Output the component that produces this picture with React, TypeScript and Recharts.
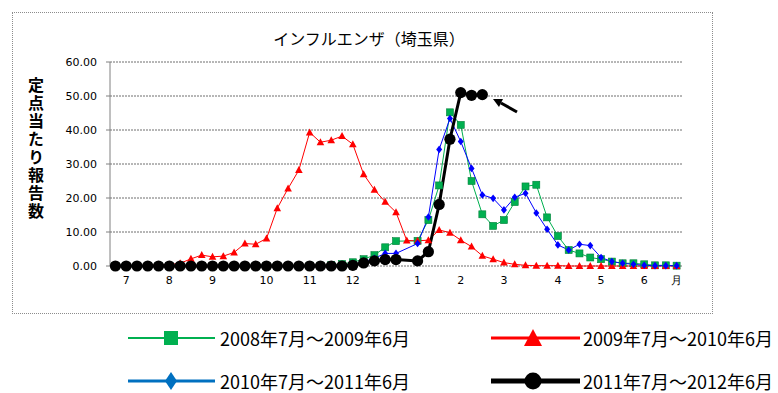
import React from 'react';
import { LineChart, Line, XAxis, YAxis, CartesianGrid, Legend } from 'recharts';

// month labels on the week axis (53 weeks, July -> June)
const monthLabels = ['7', '8', '9', '10', '11', '12', '1', '2', '3', '4', '5', '6', '月'];
const monthLabelWeeks = [1, 5, 9, 14, 18, 22, 28, 32, 36, 41, 45, 49, 52];
const yTicks = [0, 10, 20, 30, 40, 50, 60];

const seriesNames = [
  '2008年7月～2009年6月',
  '2009年7月～2010年6月',
  '2010年7月～2011年6月',
  '2011年7月～2012年6月'
];

const season0809 = [
  0, 0, 0, 0, 0, 0, 0, 0, 0, 0,
  0, 0, 0, 0, 0, 0, 0, 0, 0.1, 0.1,
  0.3, 0.6, 1.1, 2.0, 3.2, 5.5, 7.3, null, 7.4, 13.5,
  23.7, 45.2, 41.5, 25.0, 15.2, 11.8, 13.5, 18.8, 23.4, 23.9,
  14.3, 8.8, 4.7, 3.7, 2.5, 2.0, 1.3, 0.8, 0.8, 0.5,
  0.2, 0.2, 0.1
];

const season0910 = [
  0.1, 0.1, 0.1, 0.2, 0.3, 0.4, 0.8, 2.1, 3.2, 2.7,
  2.9, 4.0, 6.6, 6.4, 8.1, 17.0, 22.8, 28.2, 39.3, 36.4,
  37.0, 38.2, 35.8, 27.0, 22.4, 18.9, 15.8, 7.5, 7.4, 7.6,
  10.6, 9.8, 7.6, 5.7, 3.0, 2.0, 1.0, 0.5, 0.2, 0.1,
  0.1, 0.1, 0, 0, 0, 0, 0, 0, 0, 0,
  0, 0, 0
];

const season1011 = [
  0, 0, 0, 0, 0, 0, 0, 0, 0, 0,
  0, 0, 0, 0, 0, 0, 0, 0, 0, 0,
  0.1, 0.2, 0.5, 1.2, 2.3, 3.7, 3.7, null, 6.6, 14.4,
  34.3, 43.4, 36.6, 28.7, 20.9, 19.9, 16.5, 20.2, 21.4, 15.6,
  10.8, 6.2, 4.7, 6.4, 6.0, 2.5, 1.3, 0.8, 0.5, 0.2,
  0.1, 0.1, 0.1
];

const season1112 = [
  0, 0, 0, 0, 0, 0, 0, 0, 0, 0,
  0, 0, 0, 0, 0, 0, 0, 0, 0, 0,
  0, 0, 0.2, 0.9, 1.5, 1.9, 1.9, null, 1.5, 4.2,
  18.1, 37.3, 51.0, 50.2, 50.4, null, null, null, null, null,
  null, null, null, null, null, null, null, null, null, null,
  null, null, null
];

const data = season0809.map((v, i) => ({
  i,
  s0809: v,
  s0910: season0910[i],
  s1011: season1011[i],
  s1112: season1112[i]
}));

const boundaryTicks = Array.from({ length: 54 }, (_, k) => k - 0.5);

const GREEN = '#00B050';
const RED = '#FF0000';
const BLUE = '#0000FF';
const jp = '"Noto Sans CJK JP", "Noto Sans", sans-serif';

const ok = (p: any) => p.cx != null && p.cy != null && !isNaN(p.cy);

const squareDot = (p: any) =>
  ok(p) ? (
    <rect key={p.index} x={p.cx - 3.5} y={p.cy - 3.5} width={7} height={7} fill={GREEN} stroke="#00803A" strokeWidth={0.6} />
  ) : (
    <g key={p.index} />
  );

const triangleDot = (p: any) =>
  ok(p) ? (
    <polygon key={p.index} points={`${p.cx},${p.cy - 4} ${p.cx - 3.8},${p.cy + 3} ${p.cx + 3.8},${p.cy + 3}`} fill={RED} />
  ) : (
    <g key={p.index} />
  );

const diamondDot = (p: any) =>
  ok(p) ? (
    <polygon key={p.index} points={`${p.cx},${p.cy - 3.8} ${p.cx + 3},${p.cy} ${p.cx},${p.cy + 3.8} ${p.cx - 3},${p.cy}`} fill={BLUE} />
  ) : (
    <g key={p.index} />
  );

const circleDot = (p: any) =>
  ok(p) ? <circle key={p.index} cx={p.cx} cy={p.cy} r={5.6} fill="#000" /> : <g key={p.index} />;

const renderLegend = () => (
  <svg width={778} height={83} style={{ display: 'block' }}>
    <g fontFamily={jp} fontSize={18} fill="#000">
      <line x1={128} y1={28} x2={215} y2={28} stroke={GREEN} strokeWidth={2} />
      <rect x={164} y={21} width={14} height={14} fill={GREEN} />
      <text x={220} y={28} dominantBaseline="central">{seriesNames[0]}</text>

      <line x1={491} y1={28} x2={580} y2={28} stroke={RED} strokeWidth={3} />
      <polygon points="533,19 524,36 542,36" fill={RED} />
      <text x={583} y={28} dominantBaseline="central">{seriesNames[1]}</text>

      <line x1={128} y1={71} x2={215} y2={71} stroke="#0070C0" strokeWidth={3} />
      <polygon points="171,62 177,71 171,80 165,71" fill="#0070C0" />
      <text x={220} y={71} dominantBaseline="central">{seriesNames[2]}</text>

      <line x1={491} y1={71} x2={580} y2={71} stroke="#000" strokeWidth={5} />
      <circle cx={533} cy={71} r={8.5} fill="#000" />
      <text x={583} y={71} dominantBaseline="central">{seriesNames[3]}</text>
    </g>
  </svg>
);

export default function App() {
  return (
    <div style={{ position: 'absolute', left: 0, top: 0, width: 778, height: 393, background: '#fff', fontFamily: '"DejaVu Sans", sans-serif' }}>
      <div
        style={{
          position: 'absolute',
          left: 12,
          top: 12,
          width: 699,
          height: 300,
          border: '1px dotted #8c8c8c'
        }}
      />
      <div
        style={{
          position: 'absolute',
          left: 0,
          width: 738,
          top: 28,
          textAlign: 'center',
          fontFamily: jp,
          fontSize: 16,
          lineHeight: '20px'
        }}
      >
        インフルエンザ（埼玉県）
      </div>
      <div
        style={{
          position: 'absolute',
          left: 28,
          top: 77,
          writingMode: 'vertical-rl',
          textOrientation: 'upright',
          fontFamily: jp,
          fontWeight: 'bold',
          fontSize: 16,
          letterSpacing: 2,
          lineHeight: '16px'
        }}
      >
        定点当たり報告数
      </div>
      <LineChart width={778} height={393} data={data} margin={{ top: 62, right: 96, left: 0, bottom: 97 }}>
        <CartesianGrid xAxisId="lab" vertical={false} stroke="#6e6e6e" strokeDasharray="2 1" />
        <XAxis
          xAxisId="tk"
          type="number"
          dataKey="i"
          domain={[-0.5, 52.5]}
          ticks={boundaryTicks}
          interval={0}
          tickFormatter={() => ''}
          height={0}
          tickSize={4}
          axisLine={{ stroke: '#808080' }}
          tickLine={{ stroke: '#808080' }}
        />
        <XAxis
          xAxisId="lab"
          type="number"
          dataKey="i"
          domain={[-0.5, 52.5]}
          ticks={monthLabelWeeks}
          interval={0}
          tickFormatter={(v: number) => monthLabels[monthLabelWeeks.indexOf(v)] ?? ''}
          height={30}
          axisLine={false}
          tickLine={false}
          tickSize={6}
          tickMargin={4}
          tick={{ fill: '#000', fontSize: 11 }}
        />
        <YAxis
          type="number"
          domain={[0, 60]}
          ticks={yTicks}
          interval={0}
          tickFormatter={(v: number) => v.toFixed(2)}
          width={110}
          tickSize={4}
          tickMargin={9}
          axisLine={{ stroke: '#808080' }}
          tickLine={{ stroke: '#808080' }}
          tick={{ fill: '#000', fontSize: 11 }}
        />
        <Legend
          layout="vertical"
          verticalAlign="middle"
          align="center"
          content={renderLegend}
          wrapperStyle={{ position: 'absolute', left: 0, top: 310, width: 778, height: 83 }}
        />
        <Line xAxisId="lab" dataKey="s0809" name={seriesNames[0]} stroke={GREEN} strokeWidth={1} dot={squareDot} connectNulls isAnimationActive={false} />
        <Line xAxisId="lab" dataKey="s0910" name={seriesNames[1]} stroke={RED} strokeWidth={1} dot={triangleDot} isAnimationActive={false} />
        <Line xAxisId="lab" dataKey="s1011" name={seriesNames[2]} stroke={BLUE} strokeWidth={1} dot={diamondDot} connectNulls isAnimationActive={false} />
        <Line xAxisId="lab" dataKey="s1112" name={seriesNames[3]} stroke="#000" strokeWidth={3} dot={circleDot} connectNulls isAnimationActive={false} />
      </LineChart>
      <svg width={778} height={393} style={{ position: 'absolute', left: 0, top: 0, pointerEvents: 'none' }}>
        <line x1={517} y1={112} x2={501} y2={103} stroke="#000" strokeWidth={3} />
        <polygon points="493,99 503,99 499,107" fill="#000" />
      </svg>
    </div>
  );
}
